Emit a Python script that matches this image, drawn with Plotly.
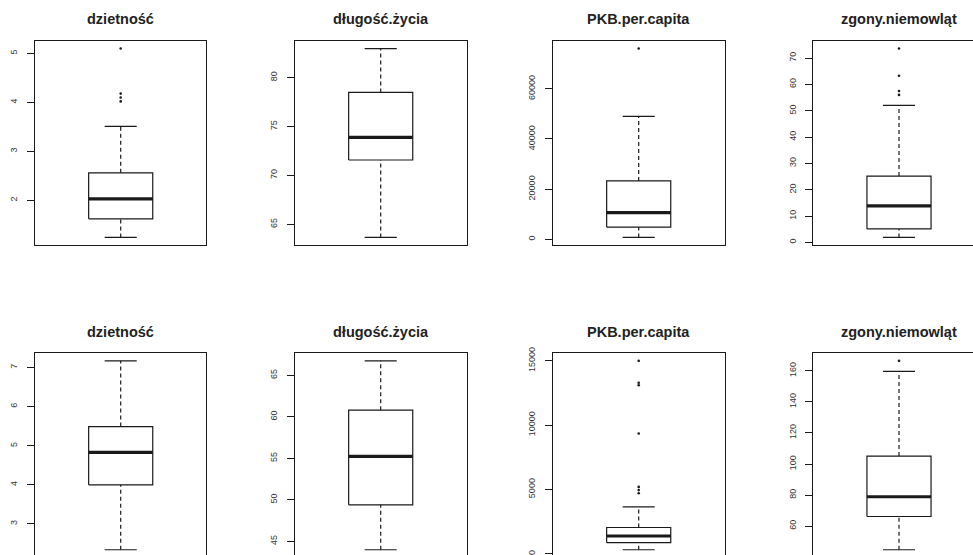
import plotly.graph_objects as go

W, H = 973, 555

# ---- data ----
titles = ["dzietność", "długość.życia", "PKB.per.capita", "zgony.niemowląt"]

# top row
top_low = [1.24, 63.66, 800, 1.9]
top_q1 = [1.62, 71.58, 4900, 5.15]
top_med = [2.03, 73.9, 10700, 13.85]
top_q3 = [2.56, 78.49, 23300, 25.2]
top_high = [3.51, 82.98, 49000, 52.0]
top_out = [[4.02, 4.1, 4.18, 5.1], [], [76000], [56.0, 57.5, 63.3, 73.6]]

# bottom row
bot_low = [2.34, 44.0, 312, 44.8]
bot_q1 = [4.0, 49.4, 864, 66.2]
bot_med = [4.83, 55.24, 1382, 78.9]
bot_q3 = [5.49, 60.8, 2040, 105.1]
bot_high = [7.17, 66.73, 3645, 159.6]
bot_out = [[], [], [4700, 4950, 5200, 9350, 13100, 13300, 15000], [166.4]]

top_dtick = [1, 5, 20000, 10]
bot_dtick = [1, 5, 5000, 20]

# ---- layout geometry (pixels) ----
col_px = [(35, 206), (295, 467), (553, 725), (813.3, 973)]
row_px = [(41, 245), (353.3, 555)]
full_h = 204.0
full_w = 171.4

BOXW = 0.187
CAPW = 0.0935
INK = "#1a1a1a"

fig = go.Figure()


def yrange(lo, hi, out, row_top, row_bot):
    vals = [lo, hi] + list(out)
    mn, mx = min(vals), max(vals)
    span = mx - mn
    r0, r1 = mn - 0.04 * span, mx + 0.04 * span
    ppu = full_h / (r1 - r0)
    top_val = r1
    bot_val = r1 - (row_bot - row_top) / ppu
    return [bot_val, top_val]


rows = [
    (top_low, top_q1, top_med, top_q3, top_high, top_out, top_dtick),
    (bot_low, bot_q1, bot_med, bot_q3, bot_high, bot_out, bot_dtick),
]

idx = 0
for r, (lo_l, q1_l, md_l, q3_l, hi_l, out_l, dt_l) in enumerate(rows):
    ry0, ry1 = row_px[r]
    for c in range(4):
        idx += 1
        xa = "x" if idx == 1 else f"x{idx}"
        ya = "y" if idx == 1 else f"y{idx}"
        lo, q1, md, q3, hi, out = lo_l[c], q1_l[c], md_l[c], q3_l[c], hi_l[c], out_l[c]
        fig.add_trace(go.Scatter(x=[-BOXW, BOXW, BOXW, -BOXW, -BOXW], y=[q1, q1, q3, q3, q1],
                                 mode="lines", line=dict(color=INK, width=1.2),
                                 xaxis=xa, yaxis=ya, showlegend=False, hoverinfo="skip"))
        fig.add_trace(go.Scatter(x=[0, 0, None, 0, 0], y=[lo, q1, None, q3, hi],
                                 mode="lines", line=dict(color=INK, width=1.2, dash="4px,3px"),
                                 xaxis=xa, yaxis=ya, showlegend=False, hoverinfo="skip"))
        fig.add_trace(go.Scatter(x=[-CAPW, CAPW, None, -CAPW, CAPW], y=[lo, lo, None, hi, hi],
                                 mode="lines", line=dict(color=INK, width=1.2),
                                 xaxis=xa, yaxis=ya, showlegend=False, hoverinfo="skip"))
        fig.add_trace(go.Scatter(x=[-BOXW, BOXW], y=[md, md],
                                 mode="lines", line=dict(color=INK, width=3.2),
                                 xaxis=xa, yaxis=ya, showlegend=False, hoverinfo="skip"))
        if out:
            fig.add_trace(go.Scatter(x=[0] * len(out), y=out, mode="markers",
                                     marker=dict(color=INK, size=2.6, symbol="circle"),
                                     xaxis=xa, yaxis=ya, showlegend=False, hoverinfo="skip"))

        cx0, cx1 = col_px[c]
        xr = [-0.5, (cx1 - cx0) / full_w - 0.5]
        xkey = "xaxis" if idx == 1 else f"xaxis{idx}"
        ykey = "yaxis" if idx == 1 else f"yaxis{idx}"
        xdict = dict(domain=[cx0 / W, cx1 / W], range=xr, showgrid=False, zeroline=False,
                     showticklabels=False, ticks="", showline=True, linecolor=INK, linewidth=1,
                     anchor=ya, fixedrange=True, automargin=False)
        if r == 0:
            xdict["mirror"] = True
        else:
            xdict["side"] = "top"
            xdict["mirror"] = False
        fig.layout[xkey] = xdict
        fig.layout[ykey] = dict(domain=[1 - ry1 / H, 1 - ry0 / H],
                                range=yrange(lo, hi, out, ry0, ry1),
                                dtick=dt_l[c], tick0=0, tickformat="d",
                                showgrid=False, zeroline=False,
                                ticks="outside", ticklen=7, tickwidth=1, tickcolor=INK,
                                tickangle=-90,
                                tickfont=dict(family="Liberation Sans, Arial", size=9, color="#333"),
                                showline=True, linecolor=INK, linewidth=1,
                                mirror=(c < 3), anchor=xa, fixedrange=True,
                                ticklabelstandoff=6, automargin=False)
        fig.add_annotation(text=f"<b>{titles[c]}</b>", xref=xa, x=0, yref="paper",
                           y=1 - (19 if r == 0 else 331.7) / H, yanchor="middle",
                           showarrow=False,
                           font=dict(family="Liberation Sans, Arial", size=14.5, color="#222"))

fig.update_layout(width=W, height=H, margin=dict(l=0, r=0, t=0, b=0, autoexpand=False),
                  paper_bgcolor="white", plot_bgcolor="white")

fig.write_html("out.html", config={"displayModeBar": False},
               post_script="document.body.style.margin='0';document.body.style.overflow='hidden';")
